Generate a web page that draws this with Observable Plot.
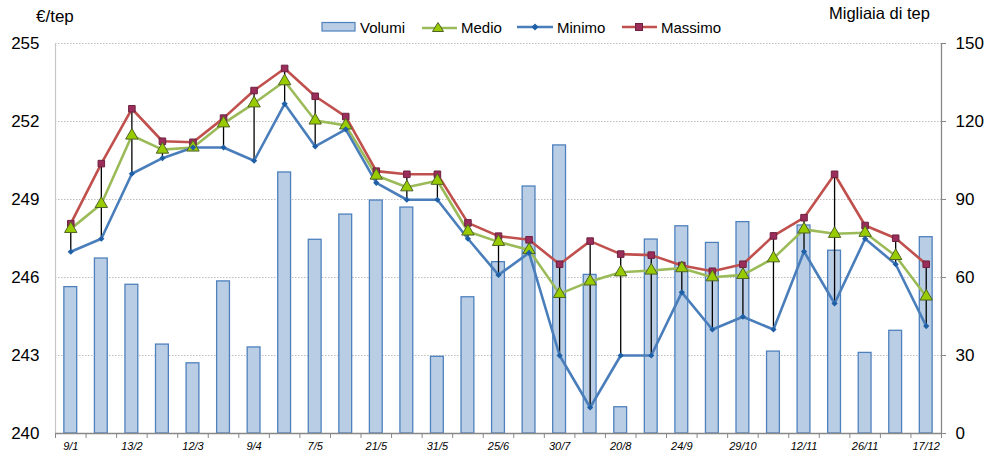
<!DOCTYPE html>
<html>
<head>
<meta charset="utf-8">
<script src="https://cdn.jsdelivr.net/npm/d3@7"></script>
<script src="https://cdn.jsdelivr.net/npm/@observablehq/plot@0.6"></script>
<style>
  body { margin: 0; background: white; font-family: "Liberation Sans", Arial, sans-serif; }
  #wrap { position: relative; width: 986px; height: 454px; overflow: hidden; }
  #chart { position: absolute; left: 0; top: 0; }
  .ttl { position: absolute; color: #000; white-space: nowrap; }
  .leg { position: absolute; top: 18px; height: 18px; display: flex; align-items: center; font-size: 15px; white-space: nowrap; }
  .leg svg { margin-right: 3px; }
</style>
</head>
<body>
<div id="wrap">
  <div id="chart"></div>
  <div class="ttl" style="left:36px; top:7px; font-size:17px;">€/tep</div>
  <div class="ttl" style="left:829px; top:4px; font-size:16.5px;">Migliaia di tep</div>
  <div class="leg" style="left:321px;">
    <svg width="36" height="12"><rect x="1" y="1.5" width="33" height="8.5" fill="#b9cde5" stroke="#4f81bd" stroke-width="1.2"/></svg>Volumi
  </div>
  <div class="leg" style="left:422px;">
    <svg width="36" height="14"><line x1="0" y1="8" x2="35" y2="8" stroke="#9bbb59" stroke-width="2.5"/><path d="M16,2.5 L21.5,11.5 L10.5,11.5 Z" fill="#99cc00" stroke="#4f6228" stroke-width="1"/></svg>Medio
  </div>
  <div class="leg" style="left:517px;">
    <svg width="37" height="14"><line x1="0" y1="7" x2="36" y2="7" stroke="#4a7ebb" stroke-width="2.5"/><path d="M18,3.5 L21.5,7 L18,10.5 L14.5,7 Z" fill="#1f5fa6"/></svg>Minimo
  </div>
  <div class="leg" style="left:622px;">
    <svg width="36" height="14"><line x1="0" y1="7" x2="35" y2="7" stroke="#c0504d" stroke-width="2.5"/><rect x="13.5" y="3.5" width="7" height="7" fill="#9b2d5a" stroke="#6d2340" stroke-width="1"/></svg>Massimo
  </div>
</div>
<script>
const volumi = [56.3, 67.3, 57.2, 34.2, 27.0, 58.5, 33.1, 100.4, 74.5, 84.2, 89.6, 86.9, 29.5, 52.4, 65.9, 95.0, 110.8, 61.0, 10.1, 74.6, 79.7, 73.3, 81.3, 31.5, 80.0, 70.3, 31.0, 39.5, 75.5];
const medio = [247.87, 248.83, 251.46, 250.92, 251.0, 251.93, 252.7, 253.55, 252.04, 251.85, 249.92, 249.47, 249.72, 247.77, 247.37, 247.06, 245.37, 245.85, 246.2, 246.27, 246.36, 246.01, 246.1, 246.74, 247.85, 247.68, 247.72, 246.83, 245.27];
const minimo = [246.99, 247.49, 249.99, 250.59, 251.0, 251.0, 250.49, 252.68, 251.04, 251.7, 249.64, 248.99, 248.99, 247.49, 246.1, 246.95, 243.0, 241.0, 243.0, 243.0, 245.43, 244.0, 244.49, 244.0, 247.0, 245.0, 247.49, 246.51, 244.13];
const massimo = [248.07, 250.38, 252.49, 251.24, 251.2, 252.13, 253.19, 254.04, 252.97, 252.19, 250.09, 249.97, 249.97, 248.1, 247.59, 247.45, 246.51, 247.4, 246.9, 246.86, 246.46, 246.24, 246.51, 247.6, 248.3, 249.97, 248.0, 247.51, 246.51];
const tickLabels = ["9/1", "13/2", "12/3", "9/4", "7/5", "21/5", "31/5", "25/6", "30/7", "20/8", "24/9", "29/10", "12/11", "26/11", "17/12"];
const leftTicks = [240, 243, 246, 249, 252, 255];

const data = volumi.map((v, i) => ({i, vol: v, med: medio[i], min: minimo[i], max: massimo[i]}));
const n = data.length;
const boundaries = d3.range(n + 1).map(k => k - 0.5);
const labelPos = tickLabels.map((_, k) => k * 2);
// right axis (Migliaia di tep, 0–150) mapped onto the left scale (240–255)
const toLeft = v => 240 + v / 10;

const chart = Plot.plot({
  width: 986,
  height: 454,
  marginTop: 43,
  marginBottom: 21,
  marginLeft: 55,
  marginRight: 45,
  style: {fontFamily: "'Liberation Sans', Arial, sans-serif", fontSize: "17px", background: "white", color: "black"},
  x: {type: "linear", domain: [-0.5, n - 0.5]},
  y: {domain: [240, 255]},
  marks: [
    Plot.gridY(leftTicks.slice(1), {stroke: "#bdbdbd", strokeOpacity: 1, strokeDasharray: "1.5,1.5", strokeWidth: 1}),
    Plot.ruleX([-0.5], {stroke: "#c8c8c8", strokeWidth: 1.2}),
    Plot.rectY(data, {x1: d => d.i - 0.21, x2: d => d.i + 0.21, y1: 240, y2: d => toLeft(d.vol), fill: "#b9cde5", stroke: "#4f81bd", strokeWidth: 1.3}),
    Plot.ruleX(data, {x: "i", y1: "min", y2: "max", stroke: "black", strokeWidth: 1.3}),
    Plot.line(data, {x: "i", y: "max", stroke: "#c0504d", strokeWidth: 2.6}),
    Plot.line(data, {x: "i", y: "med", stroke: "#9bbb59", strokeWidth: 2.6}),
    Plot.line(data, {x: "i", y: "min", stroke: "#4a7ebb", strokeWidth: 2.6}),
    Plot.dot(data, {x: "i", y: "max", symbol: "square", r: 3.7, fill: "#9b2d5a", stroke: "#6d2340", strokeWidth: 1}),
    Plot.dot(data, {x: "i", y: "med", symbol: "triangle", r: 4.6, fill: "#99cc00", stroke: "#4f6228", strokeWidth: 1}),
    Plot.dot(data, {x: "i", y: "min", symbol: "diamond2", r: 2.8, fill: "#1f5fa6", stroke: "none"}),
    Plot.ruleY([240], {stroke: "#888", strokeWidth: 1.3}),
    Plot.ruleX([n - 0.5], {stroke: "#888", strokeWidth: 1.3}),
    Plot.axisY(leftTicks, {anchor: "left", tickSize: 0, tickPadding: 16, label: null, fontSize: 17, tickFormat: d => String(d)}),
    Plot.axisY(leftTicks, {anchor: "right", tickSize: 4, tickPadding: 10, label: null, fontSize: 17, stroke: "#888", tickFormat: d => String(Math.round((d - 240) * 10))}),
    Plot.axisX(boundaries, {anchor: "bottom", tickSize: 5, stroke: "#888", tickFormat: () => "", label: null}),
    Plot.axisX(labelPos, {anchor: "bottom", tickSize: 0, tickPadding: 9, label: null, fontSize: 11, fontStyle: "italic", tickFormat: k => tickLabels[k / 2]})
  ]
});
document.getElementById("chart").appendChild(chart);
</script>
</body>
</html>
